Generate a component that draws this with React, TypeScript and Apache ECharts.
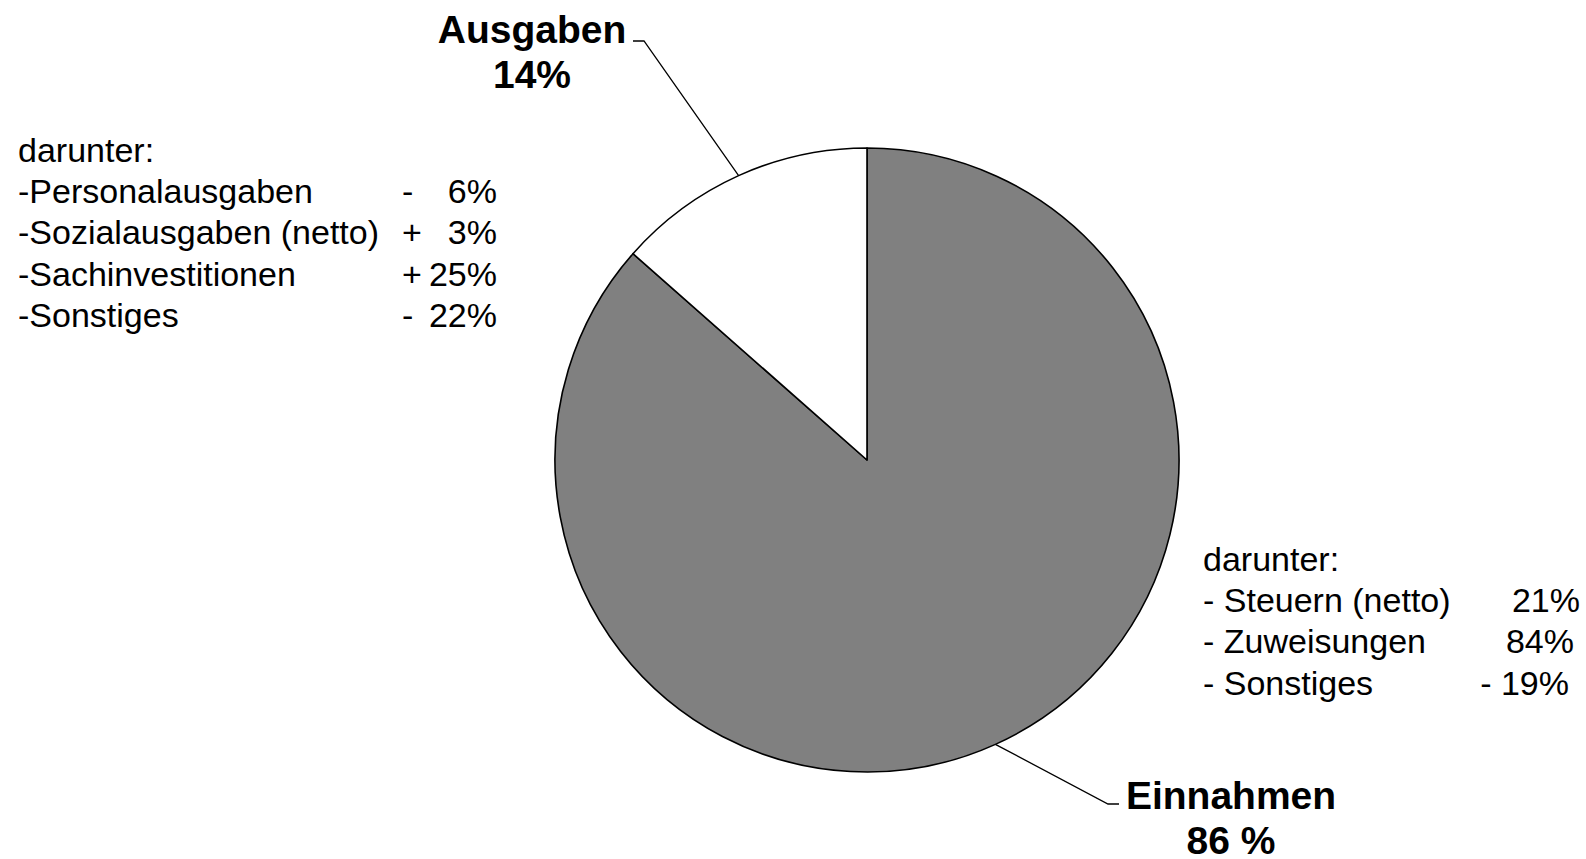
import React, { useEffect, useRef } from "react";
import * as echarts from "echarts";

// ---- data ----
const sliceNames = ["Einnahmen", "Ausgaben"];
const sliceValues = [86.5, 13.5];
const sliceLabels = ["86 %", "14%"];
const sliceColors = ["#808080", "#ffffff"];

const ausgabenItems = ["-Personalausgaben", "-Sozialausgaben (netto)", "-Sachinvestitionen", "-Sonstiges"];
const ausgabenSigns = ["-", "+", "+", "-"];
const ausgabenChanges = ["6%", "3%", "25%", "22%"];

const einnahmenItems = ["- Steuern (netto)", "- Zuweisungen", "- Sonstiges"];
const einnahmenChanges = ["21%", "84%", "- 19%"];

const headerText = "darunter:";

// ---- layout ----
const FONT = "Arial, Liberation Sans, Helvetica, sans-serif";
const W = 1586;
const H = 859;
const ROW = 41.2;
const LEFT_X = 18;
const LEFT_SIGN_X = 402;
const LEFT_VAL_X = 497;
const LEFT_Y0 = 150;
const RIGHT_X = 1203;
const RIGHT_VAL_X = [1580, 1574, 1569];
const RIGHT_Y0 = 559;

const labelPos: Record<string, { x: number; y: number; corner: [number, number]; end: [number, number] }> = {
  Ausgaben: { x: 532, y: 52, corner: [644, 41], end: [633, 41] },
  Einnahmen: { x: 1231, y: 818, corner: [1108, 804], end: [1119, 804] },
};

function txt(text: string, x: number, y: number, align: string) {
  return {
    type: "text",
    x,
    y,
    style: {
      text,
      fontFamily: FONT,
      fontSize: 34,
      fill: "#000",
      align,
      verticalAlign: "middle",
    },
  };
}

export default function App() {
  const ref = useRef<HTMLDivElement>(null);
  useEffect(() => {
    if (!ref.current) return;
    const chart = echarts.init(ref.current, undefined, { renderer: "svg" });

    const graphics: any[] = [];
    graphics.push(txt(headerText, LEFT_X, LEFT_Y0, "left"));
    ausgabenItems.forEach((name, i) => {
      const y = LEFT_Y0 + ROW * (i + 1);
      graphics.push(txt(name, LEFT_X, y, "left"));
      graphics.push(txt(ausgabenSigns[i], LEFT_SIGN_X, y, "left"));
      graphics.push(txt(ausgabenChanges[i], LEFT_VAL_X, y, "right"));
    });
    graphics.push(txt(headerText, RIGHT_X, RIGHT_Y0, "left"));
    einnahmenItems.forEach((name, i) => {
      const y = RIGHT_Y0 + ROW * (i + 1);
      graphics.push(txt(name, RIGHT_X, y, "left"));
      graphics.push(txt(einnahmenChanges[i], RIGHT_VAL_X[i], y, "right"));
    });

    chart.setOption({
      animation: false,
      backgroundColor: "#ffffff",
      graphic: graphics,
      series: [
        {
          type: "pie",
          center: [867, 460],
          radius: 312,
          startAngle: 90,
          clockwise: true,
          avoidLabelOverlap: false,
          silent: true,
          itemStyle: { borderColor: "#000", borderWidth: 1.6 },
          label: {
            show: true,
            position: "outside",
            fontFamily: FONT,
            fontSize: 39,
            fontWeight: "bold",
            lineHeight: 45,
            color: "#000",
            align: "center",
            formatter: (p: any) => `${p.name}\n${sliceLabels[p.dataIndex]}`,
          },
          labelLine: {
            show: true,
            length: 20,
            length2: 10,
            lineStyle: { color: "#000", width: 1.3 },
          },
          labelLayout: (params: any) => {
            const name = sliceNames[params.dataIndex];
            const pos = labelPos[name];
            const pts = params.labelLinePoints;
            const start = pts && pts[0] ? pts[0] : pos.corner;
            return {
              x: pos.x,
              y: pos.y,
              align: "center",
              verticalAlign: "middle",
              labelLinePoints: [start, pos.corner, pos.end],
            };
          },
          data: sliceNames.map((n, i) => ({
            name: n,
            value: sliceValues[i],
            itemStyle: { color: sliceColors[i] },
          })),
        },
      ],
    });
    return () => chart.dispose();
  }, []);
  return (
    <div
      ref={ref}
      style={{ position: "fixed", left: 0, top: 0, width: W, height: H, background: "#fff" }}
    />
  );
}
